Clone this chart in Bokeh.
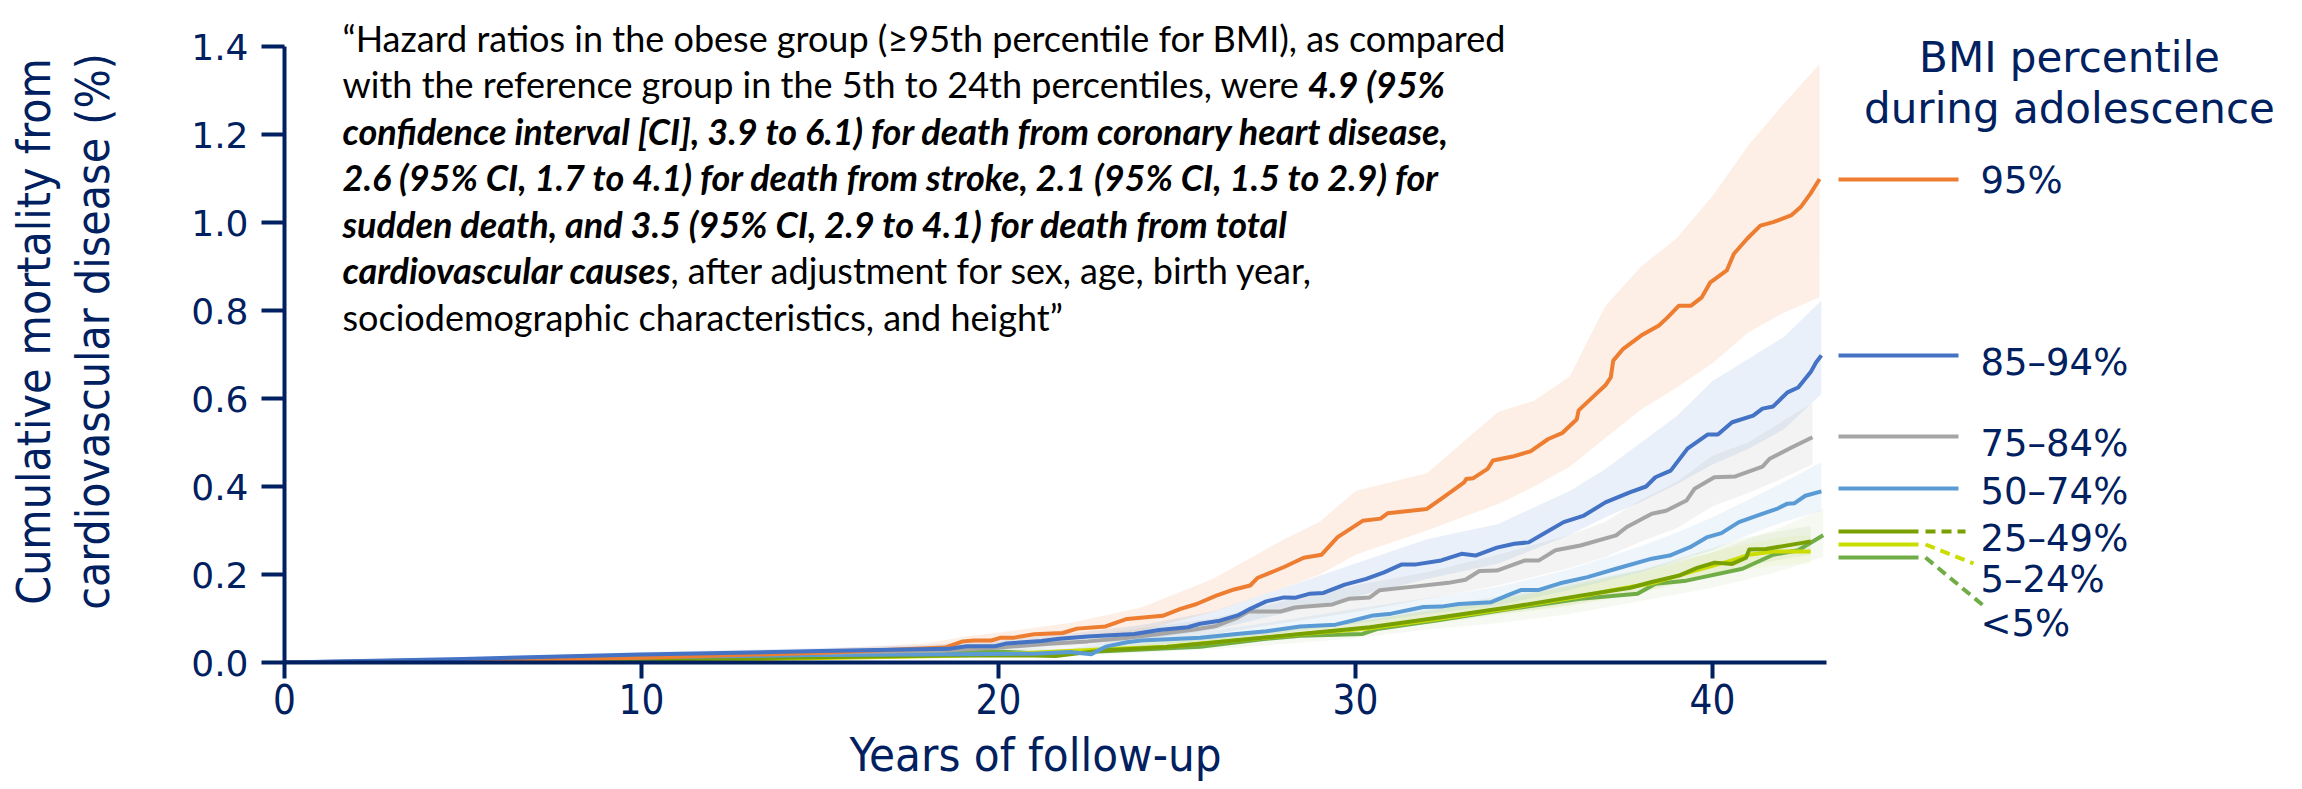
import glob, os, subprocess
from bokeh.plotting import figure
from bokeh.models import Range1d, FixedTicker, PrintfTickFormatter, Title
from bokeh.core.properties import value
from bokeh.embed import file_html
from bokeh.resources import INLINE

# ---------------- data ----------------
series_names = ["95%", "85\u201394%", "75\u201384%", "50\u201374%", "25\u201349%", "5\u201324%", "<5%"]

yrs_95 = [0, 5, 10, 15, 18.5, 19.0, 19.3, 19.8, 20.05, 20.4, 21.0, 21.8, 22.2, 23.0, 23.6, 24.6, 25.1, 25.55,
          26.1, 26.6, 27.05, 27.25, 28.0, 28.55, 29.05, 29.5, 30.2, 30.7, 30.9, 32.0, 32.4, 32.8, 33.05, 33.1,
          33.3, 33.7, 33.85, 34.4, 34.9, 35.4, 35.8, 36.2, 36.25, 36.75, 37.0, 37.15, 37.22, 37.5, 38.0, 38.5,
          38.75, 39.06, 39.4, 39.7, 39.94, 40.4, 40.6, 40.97, 41.34, 41.7, 42.2, 42.47, 42.74, 43.0]
cum_95 = [0, 0.002, 0.011, 0.022, 0.034, 0.048, 0.050, 0.050, 0.056, 0.056, 0.064, 0.067, 0.077, 0.082, 0.099,
          0.106, 0.122, 0.133, 0.152, 0.166, 0.175, 0.192, 0.217, 0.238, 0.245, 0.285, 0.322, 0.327, 0.339,
          0.349, 0.372, 0.395, 0.410, 0.417, 0.419, 0.440, 0.459, 0.468, 0.480, 0.508, 0.522, 0.553, 0.573,
          0.611, 0.630, 0.648, 0.686, 0.713, 0.743, 0.766, 0.785, 0.811, 0.811, 0.830, 0.864, 0.891, 0.929,
          0.963, 0.993, 1.001, 1.016, 1.035, 1.065, 1.099]

yrs_85 = [0, 5, 10, 15, 18.6, 19.1, 19.9, 20.2, 21.2, 21.7, 22.5, 23.8, 24.5, 25.3, 25.65, 26.2, 26.7, 27.05,
          27.5, 28.0, 28.3, 28.7, 29.1, 29.7, 30.3, 30.8, 31.3, 31.7, 32.4, 32.97, 33.36, 33.96, 34.45, 34.85,
          35.34, 35.83, 36.4, 37.0, 37.7, 38.14, 38.4, 38.83, 39.3, 39.86, 40.15, 40.55, 41.14, 41.4, 41.7,
          42.1, 42.4, 42.75, 42.9, 43.05]
cum_85 = [0, 0.008, 0.018, 0.026, 0.031, 0.037, 0.037, 0.043, 0.049, 0.054, 0.059, 0.065, 0.074, 0.080, 0.088,
          0.095, 0.107, 0.122, 0.139, 0.148, 0.147, 0.156, 0.158, 0.177, 0.190, 0.205, 0.223, 0.223, 0.232,
          0.247, 0.243, 0.261, 0.270, 0.273, 0.296, 0.319, 0.334, 0.364, 0.387, 0.400, 0.421, 0.436, 0.486,
          0.518, 0.518, 0.546, 0.561, 0.577, 0.582, 0.614, 0.625, 0.660, 0.682, 0.698]

yrs_75 = [0, 5, 10, 15, 18.6, 20.0, 21.5, 22.5, 23.5, 24.5, 25.5, 26.1, 26.7, 27.0, 27.9, 28.3, 28.46, 29.35,
          29.83, 30.4, 30.67, 31.7, 32.6, 33.08, 33.47, 33.96, 34.75, 35.14, 35.6, 36.3, 37.3, 37.6, 38.3,
          38.7, 39.27, 39.5, 40.05, 40.64, 41.4, 41.6, 42.2, 42.8]
cum_75 = [0, 0.006, 0.015, 0.022, 0.028, 0.034, 0.043, 0.048, 0.055, 0.065, 0.075, 0.083, 0.102, 0.116, 0.116,
          0.125, 0.126, 0.132, 0.145, 0.148, 0.164, 0.173, 0.181, 0.188, 0.208, 0.209, 0.232, 0.232, 0.255,
          0.266, 0.289, 0.308, 0.338, 0.345, 0.368, 0.395, 0.421, 0.423, 0.445, 0.463, 0.488, 0.512]

yrs_50 = [0, 5, 10, 15, 19.0, 21.0, 22.0, 22.6, 23.0, 23.6, 24.0, 25.65, 26.6, 27.5, 28.45, 29.44, 29.9, 30.5,
          31.0, 31.9, 32.4, 32.9, 33.8, 34.36, 34.65, 35.14, 35.73, 36.5, 37.3, 38.3, 38.8, 39.37, 39.86,
          40.25, 40.74, 41.33, 41.8, 42.1, 42.3, 42.6, 43.05]
cum_50 = [0, 0.005, 0.012, 0.017, 0.019, 0.020, 0.024, 0.019, 0.036, 0.046, 0.050, 0.056, 0.064, 0.071, 0.082,
          0.086, 0.095, 0.107, 0.111, 0.126, 0.127, 0.133, 0.137, 0.156, 0.165, 0.165, 0.180, 0.194, 0.213,
          0.236, 0.243, 0.262, 0.285, 0.294, 0.319, 0.336, 0.349, 0.361, 0.362, 0.379, 0.389]

yrs_25 = [0, 5, 10, 15, 18.5, 21.0, 21.6, 22.85, 24.7, 26.6, 28.45, 30.4, 32.4, 34.36, 36.3, 37.7, 38.3, 39.08,
          39.57, 40.06, 40.55, 40.94, 41.03, 41.5, 42.6, 42.75]
cum_25 = [0, 0.003, 0.007, 0.012, 0.016, 0.016, 0.015, 0.027, 0.035, 0.050, 0.065, 0.080, 0.103, 0.126, 0.152,
          0.170, 0.183, 0.198, 0.215, 0.227, 0.224, 0.238, 0.257, 0.258, 0.273, 0.275]

yrs_5 = [0, 5, 10, 13.3, 18.5, 20.0, 22.0, 23.0, 24.7, 26.6, 28.45, 30.4, 32.4, 34.36, 36.3, 37.3, 38.3, 39.57,
         40.55, 41.03, 41.7, 42.75]
cum_5 = [0, 0.002, 0.005, 0.008, 0.015, 0.019, 0.026, 0.030, 0.036, 0.050, 0.064, 0.078, 0.100, 0.124, 0.150,
         0.166, 0.180, 0.210, 0.232, 0.245, 0.252, 0.252]

yrs_0 = [0, 5, 10, 15, 18.5, 19.6, 20.3, 21.2, 22.8, 25.65, 27.5, 28.46, 30.2, 30.6, 32.4, 34.36, 36.3, 37.9,
         38.4, 39.27, 40.84, 41.7, 42.4, 43.1]
cum_0 = [0, 0.004, 0.010, 0.015, 0.019, 0.026, 0.024, 0.020, 0.025, 0.036, 0.054, 0.061, 0.065, 0.076, 0.097,
         0.122, 0.145, 0.156, 0.179, 0.186, 0.213, 0.245, 0.255, 0.289]

# confidence bands
bx_95 = [0, 5, 10, 15, 18, 19, 20, 22, 24, 26, 28, 29, 30, 32, 34, 35, 36, 37, 38, 39, 40, 41, 42, 43.0]
lo_95 = [0, 0.001, 0.006, 0.014, 0.022, 0.030, 0.038, 0.050, 0.072, 0.115, 0.170, 0.200, 0.245, 0.300, 0.360,
         0.400, 0.445, 0.510, 0.575, 0.625, 0.680, 0.750, 0.795, 0.830]
hi_95 = [0, 0.006, 0.016, 0.030, 0.044, 0.058, 0.068, 0.090, 0.125, 0.190, 0.280, 0.320, 0.390, 0.430, 0.570,
         0.595, 0.650, 0.810, 0.900, 0.965, 1.060, 1.175, 1.270, 1.360]

bx_85 = [0, 5, 10, 15, 18, 20, 22, 24, 26, 28, 30, 32, 34, 36, 37, 38, 39, 40, 41, 42, 43.05]
lo_85 = [0, 0.004, 0.011, 0.018, 0.022, 0.029, 0.041, 0.053, 0.074, 0.112, 0.150, 0.190, 0.225, 0.290, 0.330,
         0.365, 0.405, 0.450, 0.485, 0.530, 0.610]
hi_85 = [0, 0.011, 0.024, 0.033, 0.040, 0.050, 0.066, 0.085, 0.116, 0.170, 0.225, 0.280, 0.315, 0.390, 0.440,
         0.500, 0.560, 0.640, 0.690, 0.740, 0.823]

bx_75 = [0, 5, 10, 15, 18, 20, 22, 24, 26, 28, 30, 32, 34, 36, 37, 38, 39, 40, 41, 42, 42.8]
lo_75 = [0, 0.003, 0.009, 0.015, 0.020, 0.026, 0.035, 0.047, 0.064, 0.090, 0.115, 0.145, 0.175, 0.215, 0.240,
         0.275, 0.305, 0.355, 0.385, 0.420, 0.450]
hi_75 = [0, 0.010, 0.021, 0.029, 0.035, 0.044, 0.058, 0.078, 0.100, 0.140, 0.175, 0.205, 0.245, 0.290, 0.320,
         0.370, 0.410, 0.470, 0.500, 0.550, 0.590]

bx_50 = [0, 5, 10, 15, 18, 20, 22, 24, 26, 28, 30, 32, 34, 36, 37, 38, 39, 40, 41, 42, 43.05]
lo_50 = [0, 0.002, 0.007, 0.012, 0.014, 0.016, 0.019, 0.038, 0.050, 0.068, 0.088, 0.110, 0.130, 0.165, 0.185,
         0.205, 0.230, 0.255, 0.290, 0.320, 0.345]
hi_50 = [0, 0.008, 0.016, 0.022, 0.025, 0.028, 0.032, 0.060, 0.072, 0.096, 0.122, 0.146, 0.172, 0.212, 0.238,
         0.265, 0.295, 0.330, 0.370, 0.410, 0.455]

bx_25 = [0, 5, 10, 15, 18, 20, 22, 24, 26, 28, 30, 32, 34, 36, 38, 40, 41, 42, 42.75]
lo_25 = [0, 0.001, 0.004, 0.008, 0.012, 0.013, 0.018, 0.028, 0.040, 0.054, 0.068, 0.088, 0.110, 0.130, 0.160,
         0.200, 0.220, 0.235, 0.245]
hi_25 = [0, 0.005, 0.010, 0.015, 0.020, 0.022, 0.030, 0.040, 0.056, 0.074, 0.092, 0.118, 0.145, 0.175, 0.210,
         0.260, 0.285, 0.300, 0.310]

bx_5 = [0, 5, 10, 15, 18, 20, 22, 24, 26, 28, 30, 32, 34, 36, 38, 40, 41, 42, 42.75]
lo_5 = [0, 0.0005, 0.003, 0.006, 0.011, 0.014, 0.020, 0.027, 0.040, 0.053, 0.066, 0.086, 0.108, 0.128, 0.158,
        0.198, 0.212, 0.222, 0.225]
hi_5 = [0, 0.004, 0.008, 0.013, 0.019, 0.024, 0.032, 0.044, 0.060, 0.076, 0.092, 0.116, 0.142, 0.172, 0.204,
        0.250, 0.270, 0.285, 0.290]

bx_0 = [0, 5, 10, 15, 18, 20, 22, 24, 26, 28, 30, 32, 34, 36, 38, 40, 41, 42, 43.1]
lo_0 = [0, 0.001, 0.004, 0.007, 0.010, 0.012, 0.014, 0.022, 0.030, 0.042, 0.055, 0.075, 0.090, 0.110, 0.140,
        0.170, 0.190, 0.210, 0.240]
hi_0 = [0, 0.008, 0.015, 0.021, 0.026, 0.030, 0.034, 0.045, 0.058, 0.075, 0.095, 0.125, 0.150, 0.180, 0.210,
        0.250, 0.280, 0.310, 0.350]

x_ticks = [0, 10, 20, 30, 40]
y_ticks = [0.0, 0.2, 0.4, 0.6, 0.8, 1.0, 1.2, 1.4]

quote_lines = [
    [("\u201cHazard ratios in the obese group (\u226595th percentile for BMI), as compared", "n")],
    [("with the reference group in the 5th to 24th percentiles, were ", "n"), ("4.9 (95%", "bi")],
    [("confidence interval [CI], 3.9 to 6.1) for death from coronary heart disease,", "bi")],
    [("2.6 (95% CI, 1.7 to 4.1) for death from stroke, 2.1 (95% CI, 1.5 to 2.9) for", "bi")],
    [("sudden death, and 3.5 (95% CI, 2.9 to 4.1) for death from total", "bi")],
    [("cardiovascular causes", "bi"), (", after adjustment for sex, age, birth year,", "n")],
    [("sociodemographic characteristics, and height\u201d", "n")],
]
legend_title = ["BMI percentile", "during adolescence"]
x_title = "Years of follow-up"
y_title = "Cumulative mortality from\ncardiovascular disease (%)"

# ---------------- styling / layout ----------------
NAVY = "#002060"
COLORS = ["#ED7D31", "#4472C4", "#A5A5A5", "#5B9BD5", "#78A000", "#CBDC00", "#70AD47"]
BAND_ALPHA = [0.12, 0.11, 0.13, 0.10, 0.07, 0.07, 0.07]

W, H = 2302, 789                # canvas size (page has no body margin)
X0_PX, PX_PER_YEAR = 284, 35.7  # px of year 0, px per year
Y0_PX, PX_PER_UNIT = 662, 440   # px of 0 %, px per 1 %


def px2x(px):
    return (px - X0_PX) / PX_PER_YEAR


def py2y(py):
    return (Y0_PX - py) / PX_PER_UNIT


p = figure(width=W, height=H, output_backend="svg", toolbar_location=None, title=None,
           x_range=Range1d(0, px2x(W)), y_range=Range1d(0, py2y(0)),
           min_border_left=X0_PX, min_border_right=0, min_border_top=0,
           min_border_bottom=H - Y0_PX)
p.outline_line_color = None
p.grid.visible = False
p.background_fill_color = "white"
p.border_fill_color = "white"

for ax in (p.xaxis[0], p.yaxis[0]):
    ax.axis_line_color = NAVY
    ax.axis_line_width = 4
    ax.major_tick_line_color = NAVY
    ax.major_tick_line_width = 4
    ax.major_tick_in = 0
    ax.minor_tick_line_color = None
    ax.major_label_text_color = NAVY

p.xaxis.bounds = (0, px2x(1826))
p.xaxis.ticker = FixedTicker(ticks=x_ticks)
p.xaxis.major_tick_out = 16
p.xaxis.major_label_text_font = "DejaVu Sans Condensed"
p.xaxis.major_label_text_font_size = "40px"
p.xaxis.major_label_standoff = 5

p.yaxis.bounds = (0, 1.4)
p.yaxis.ticker = FixedTicker(ticks=y_ticks)
p.yaxis.formatter = PrintfTickFormatter(format="%.1f")
p.yaxis.major_tick_out = 23
p.yaxis.major_label_text_font = "DejaVu Sans"
p.yaxis.major_label_text_font_size = "36px"
p.yaxis.major_label_standoff = 13
p.yaxis.axis_label = y_title
p.yaxis.axis_label_standoff = 68
p.yaxis.axis_label_text_color = NAVY
p.yaxis.axis_label_text_font = "DejaVu Sans Condensed"
p.yaxis.axis_label_text_font_size = "46px"
p.yaxis.axis_label_text_font_style = "normal"
p.yaxis.axis_label_text_line_height = 1.09

# x-axis title as a below-panel title, so it can sit left of the frame centre as in the reference
p.add_layout(Title(text=x_title, align="left", offset=852 - X0_PX - 3, vertical_align="bottom", standoff=16,
                   text_font="DejaVu Sans Condensed", text_font_size="47px", text_font_style="normal",
                   text_color=NAVY), "below")

# bands
bands = [(bx_95, lo_95, hi_95), (bx_85, lo_85, hi_85), (bx_75, lo_75, hi_75), (bx_50, lo_50, hi_50),
         (bx_25, lo_25, hi_25), (bx_5, lo_5, hi_5), (bx_0, lo_0, hi_0)]
for (bx, lo, hi), c, a in zip(bands, COLORS, BAND_ALPHA):
    p.varea(x=bx, y1=lo, y2=hi, fill_color=c, fill_alpha=a)

# curves (draw order: greens, light blue, gray, orange, blue)
curves = [(yrs_95, cum_95), (yrs_85, cum_85), (yrs_75, cum_75), (yrs_50, cum_50),
          (yrs_25, cum_25), (yrs_5, cum_5), (yrs_0, cum_0)]
for i in [6, 5, 4, 3, 2, 0, 1]:
    xs, ys = curves[i]
    p.line(xs, ys, line_color=COLORS[i], line_width=4, line_join="round")


# ---------------- quote text ----------------
def find_font(names, fc):
    for n in names:
        for root in ("/usr/share/fonts", "/usr/local/share/fonts", os.path.expanduser("~/.fonts"),
                     os.path.expanduser("~/.local/share/fonts")):
            hits = glob.glob(os.path.join(root, "**", n), recursive=True)
            if hits:
                return hits[0]
    try:
        out = subprocess.run(["fc-match", "-f", "%{file}", fc], capture_output=True, text=True, timeout=5).stdout
        if out and "lato" in out.lower():
            return out
    except Exception:
        pass
    return None


FONT_FILES = {"n": find_font(["Lato-Regular.ttf"], "Lato:style=Regular"),
              "bi": find_font(["Lato-BoldItalic.ttf"], "Lato:style=Bold Italic")}


def measure(text, style, size):
    path = FONT_FILES.get(style)
    if path:
        try:
            from PIL import ImageFont
            return ImageFont.truetype(path, 100).getlength(text) * size / 100.0
        except Exception:
            pass
    return len(text) * size * (0.49 if style == "n" else 0.52)


line1_w = measure(quote_lines[0][0][0], "n", 1.0)
QFS = max(24.0, min(36.0, (1512 - 342) / line1_w)) if line1_w > 0 else 30.0
QFS = round(QFS, 1)

for li, segs in enumerate(quote_lines):
    base = 37 + li * 46.5
    off = 0.0
    for txt, st in segs:
        p.text(x=[px2x(342)], y=[py2y(base)], text=[txt], x_offset=[off],
               text_font=value("Lato"), text_font_size=value(f"{QFS}px"),
               text_font_style=value("normal" if st == "n" else "bold italic"),
               text_color="black", text_align="left", text_baseline="alphabetic")
        off += measure(txt, st, QFS)

# ---------------- legend (custom, as in the reference) ----------------
for t, b in zip(legend_title, [57, 108]):
    p.text(x=[px2x(2069)], y=[py2y(b)], text=[t], text_font=value("DejaVu Sans"),
           text_font_size=value("42px"), text_color=NAVY, text_align="center", text_baseline="alphabetic")

leg_line_y = [179, 355, 436, 488, 531, 544, 557]
leg_text_y = [180, 362, 443, 491, 538, 579, 623]
dash_end = {4: (1965, 531), 5: (1973, 563), 6: (1984, 606)}
for i, name in enumerate(series_names):
    yl = py2y(leg_line_y[i])
    if i in dash_end:
        p.segment(x0=[px2x(1838)], y0=[yl], x1=[px2x(1918)], y1=[yl], line_color=COLORS[i], line_width=4)
        ex, ey = dash_end[i]
        p.segment(x0=[px2x(1925)], y0=[yl], x1=[px2x(ex)], y1=[py2y(ey)], line_color=COLORS[i],
                  line_width=4, line_dash="10 6")
    else:
        p.segment(x0=[px2x(1838)], y0=[yl], x1=[px2x(1958)], y1=[yl], line_color=COLORS[i], line_width=4)
    p.text(x=[px2x(1980)], y=[py2y(leg_text_y[i])], text=[name], text_font=value("DejaVu Sans"),
           text_font_size=value("37px"), text_color=NAVY, text_align="left", text_baseline="alphabetic")

open("out.html", "w").write(file_html(p, INLINE))
